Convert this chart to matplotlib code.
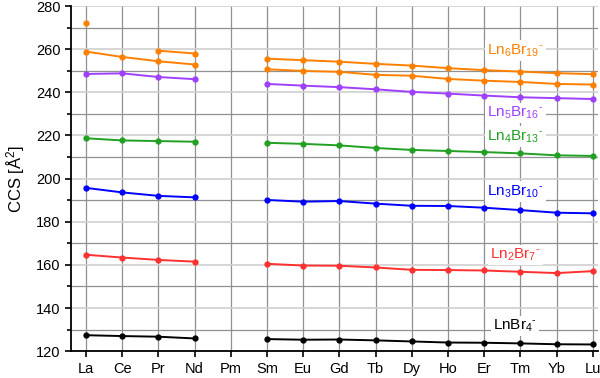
import numpy as np
import matplotlib
matplotlib.use("Agg")
import matplotlib.pyplot as plt
from matplotlib.ticker import MultipleLocator

plt.rcParams['font.family'] = ['Liberation Sans', 'DejaVu Sans']
plt.rcParams['mathtext.fontset'] = 'custom'
plt.rcParams['mathtext.rm'] = 'Liberation Sans'
plt.rcParams['mathtext.it'] = 'Liberation Sans'
plt.rcParams['mathtext.default'] = 'regular'

nan = np.nan

elements = ["La", "Ce", "Pr", "Nd", "Pm", "Sm", "Eu", "Gd",
            "Tb", "Dy", "Ho", "Er", "Tm", "Yb", "Lu"]

# CCS values (A^2), Pm has no data
lnbr4 = [127.4, 127.0, 126.7, 125.9, nan, 125.6, 125.3, 125.4,
         125.0, 124.5, 124.0, 123.9, 123.6, 123.2, 123.1]
ln2br7 = [164.7, 163.4, 162.3, 161.5, nan, 160.5, 159.7, 159.6,
          158.8, 157.7, 157.6, 157.4, 156.8, 156.2, 157.1]
ln3br10 = [195.7, 193.6, 192.0, 191.3, nan, 190.1, 189.3, 189.6,
           188.4, 187.4, 187.3, 186.5, 185.4, 184.2, 183.9]
ln4br13 = [218.7, 217.7, 217.4, 217.1, nan, 216.6, 216.1, 215.4,
           214.2, 213.3, 212.8, 212.3, 211.7, 210.8, 210.5]
ln5br16 = [248.5, 248.8, 247.1, 246.1, nan, 243.9, 243.1, 242.4,
           241.4, 240.2, 239.4, 238.5, 237.7, 237.3, 236.9]
ln6br19_a = [258.9, 256.4, 254.4, 252.9, nan, 250.7, 249.9, 249.5,
             248.1, 247.7, 246.2, 245.4, 244.8, 243.9, 243.6]
ln6br19_b = [272.3, nan, 259.3, 258.0, nan, 255.6, 254.9, 254.2,
             253.2, 252.4, 251.2, 250.3, 249.6, 248.9, 248.4]

black = "#000000"
red = "#ff3030"
blue = "#0000ff"
green = "#22a022"
purple = "#a040ff"
orange = "#ff8000"

series = [
    (lnbr4, black),
    (ln2br7, red),
    (ln3br10, blue),
    (ln4br13, green),
    (ln5br16, purple),
    (ln6br19_a, orange),
    (ln6br19_b, orange),
]

labels = [
    (r"LnBr$_4$$^{\text{-}}$", 131.6, black),
    (r"Ln$_2$Br$_7$$^{\text{-}}$", 164.6, red),
    (r"Ln$_3$Br$_{10}$$^{\text{-}}$", 194.0, blue),
    (r"Ln$_4$Br$_{13}$$^{\text{-}}$", 219.4, green),
    (r"Ln$_5$Br$_{16}$$^{\text{-}}$", 230.4, purple),
    (r"Ln$_6$Br$_{19}$$^{\text{-}}$", 259.4, orange),
]

fig = plt.figure(figsize=(6, 3.78), dpi=100)
ax = fig.add_axes([0.118, 0.071, 0.879, 0.913])

x = np.arange(len(elements))
for vals, col in series:
    ax.plot(x, vals, color=col, lw=1.4, marker="o", ms=3.5, zorder=3)

for txt, yv, col in labels:
    ax.text(11.86, yv, txt, color=col, fontsize=11, ha="center", va="center",
            zorder=2, bbox=dict(facecolor="white", edgecolor="none", pad=1.5))

ax.set_xlim(-0.42, 14.15)
ax.set_ylim(120, 280)
ax.set_xticks(x)
ax.set_xticklabels(elements)
ax.yaxis.set_major_locator(MultipleLocator(20))
ax.yaxis.set_minor_locator(MultipleLocator(10))

ax.grid(True, axis="x", color="#909090", lw=0.9, zorder=0)
ax.grid(True, axis="y", which="major", color="#d0d0d0", lw=1.2, zorder=0)
ax.grid(True, axis="y", which="minor", color="#909090", lw=0.9, zorder=0)
ax.set_axisbelow(True)

for s in ["top", "right"]:
    ax.spines[s].set_visible(False)
ax.spines["left"].set_linewidth(1.3)
ax.spines["bottom"].set_linewidth(1.3)
ax.tick_params(axis="both", which="major", length=4, width=1.2, labelsize=10.5)
ax.tick_params(axis="y", which="minor", length=3, width=1.2)

ax.set_ylabel(r"CCS [$\AA^2$]", fontsize=12, labelpad=6)

fig.savefig("out.png", dpi=100)
